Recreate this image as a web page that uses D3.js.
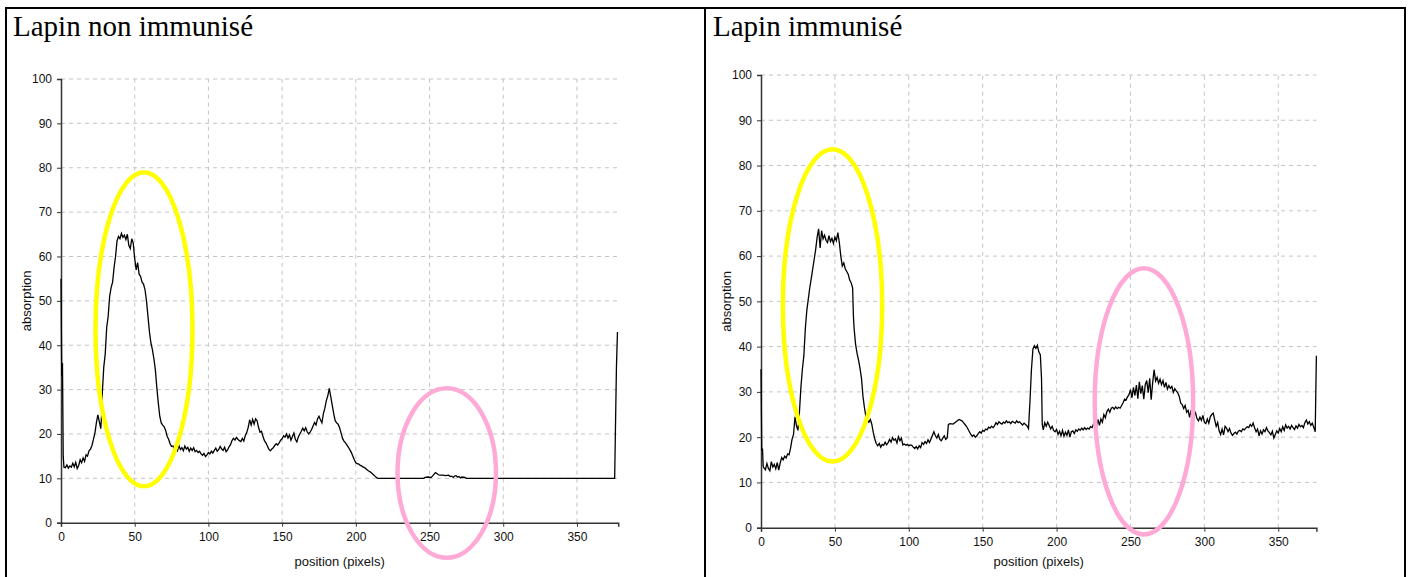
<!DOCTYPE html>
<html>
<head>
<meta charset="utf-8">
<script src="https://cdn.jsdelivr.net/npm/d3@7/dist/d3.min.js"></script>
<style>
  body { margin: 0; background: #fff; }
  svg { display: block; }
  .grid line { stroke: #c4c4c4; stroke-dasharray: 4,4; }
  .axis path, .axis line { stroke: #333; }
  .axis text { font-family: "Liberation Sans", Arial, sans-serif; font-size: 12px; fill: #111; }
  .lbl { font-family: "Liberation Sans", Arial, sans-serif; font-size: 13px; fill: #111; }
  .title { font-family: "Liberation Serif", "DejaVu Serif", serif; font-size: 29px; fill: #000; }
</style>
</head>
<body>
<svg id="fig" width="1412" height="577"></svg>
<script>
const titles = ["Lapin non immunisé", "Lapin immunisé"];
const xTicks = [0, 50, 100, 150, 200, 250, 300, 350];
const yTicks = [0, 10, 20, 30, 40, 50, 60, 70, 80, 90, 100];
const xLabel = "position (pixels)";
const yLabel = "absorption";
const positionMax = [378, 375.8];

// [position, absorption]
const profileNon = [
  [0,55],[0.5,33],[1,36],[1.5,15],[2,12.5],[3,12.4],[4,13],[5,12.3],[6,12.8],[7,12.5],[8,13.4],[9,12.6],
  [10,13.6],[11,12.2],[12,12.9],[13,14.2],[14,13.5],[15,14.6],[16,13.8],[17,15.3],[18,15],[19,16.2],
  [20,16.6],[21,17.4],[22,18.8],[23,20.2],[24,22.5],[25,24.3],[26,22.8],[27,21.2],[27.5,24],[28,29],
  [29,35],[30,38],[31,44],[32,46.5],[33,51],[34,53],[35,54.2],[36,57.5],[37,60],[38,63.5],[39,64.5],
  [40,64],[41,65.2],[42,64.3],[43,64.8],[44,63.8],[45,65],[46,62.5],[47,61.8],[48,64],[49,63],
  [50,59.5],[51,57],[52,58.6],[53,56],[54,55.5],[55,54.2],[56,53.8],[57,52.5],[58,50],[59,46.5],
  [60,43],[61,40.5],[62,39],[63,37],[64,34.5],[65,30.5],[66,27],[67,24],[68,22.5],[69,22],
  [70,21.6],[71,20.8],[72,19.5],[73,18.8],[74,17.8],[75,17.2],[76,17.3],[77,16.4],[78,16.8],[79,16.2],
  [80,17.4],[81,16.5],[82,16.9],[83,16.2],[84,17.3],[85,16.6],[86,17],[87,16.1],[88,16.8],[89,16.3],
  [90,16.9],[91,16],[92,16.3],[93,15.8],[94,16.1],[95,15.5],[96,15.2],[97,15.6],[98,14.9],[99,15.3],
  [100,15.8],[101,15.5],[102,16.1],[103,15.7],[104,16.3],[105,16.8],[106,16.1],[107,16.5],[108,17.2],[109,16.6],
  [110,16.3],[111,17],[112,16],[113,16.4],[114,17.1],[115,17.6],[116,18.5],[117,19],[118,18.6],[119,19.2],
  [120,18.8],[121,18.5],[122,18.3],[123,19],[124,18.4],[125,19.6],[126,20.3],[127,21.5],[128,23.2],[129,22],
  [130,23.3],[131,22.2],[132,23.4],[133,23],[134,21.5],[135,20.4],[136,20.6],[137,19.5],[138,18.5],[139,18],
  [140,17.3],[141,16.6],[142,16.2],[143,16.6],[144,16.9],[145,17.4],[146,17.8],[147,17.5],[148,18],[149,18.6],
  [150,18.9],[151,19.6],[152,19.3],[153,20],[154,19.1],[155,19.8],[156,18.6],[157,19.4],[158,20.2],[159,18.8],
  [160,18.2],[161,19.3],[162,20],[163,20.6],[164,21.3],[165,20.7],[166,21.4],[167,20.5],[168,20],[169,20.4],
  [170,21],[171,21.8],[172,22.6],[173,22],[174,23.4],[175,24],[176,23.2],[177,22.5],[178,24.6],[179,25.8],
  [180,27.5],[181,28.6],[182,30.3],[183,28.4],[184,26.5],[185,24.6],[186,23],[187,22.5],[188,22.2],[189,21.4],
  [190,20.2],[191,19],[192,18.4],[193,18],[194,17.5],[195,17],[196,16.4],[197,15.8],[198,15],[199,14.2],
  [200,13.5],[201,13.3],[202,13.2],[203,12.9],[204,12.8],[205,12.5],[206,12.4],[207,12.1],[208,11.8],[209,11.6],
  [210,11.4],[211,11.1],[212,10.8],[213,10.5],[214,10.2],[215,10],[246,10],[247,10.2],[249,10.3],[251,10.2],
  [252,10.5],[253,10.9],[254,11.3],[255,11.1],[256,10.8],[257,10.7],[259,10.7],[261,10.6],[263,10.7],[264,10.4],
  [265,10.5],[266,10.2],[267,10.5],[268,10.6],[269,10.3],[270,10.4],[271,10.1],[272,10.3],[274,10.2],[275,10],
  [375.6,10],[376,18.3],[376.8,35],[377.5,43]
];

// [position, absorption]
const profileImm = [
  [0,35],[0.5,17],[1,17.5],[1.5,13.5],[2,13.2],[3,12.8],[4,14.2],[5,13.1],[6,12.6],[7,14.6],[8,13.4],[9,14],
  [10,13],[11,14.4],[12,12.7],[13,14.3],[14,15.5],[15,15],[16,15.8],[17,15.4],[18,16.3],[19,16.1],
  [20,17.6],[21,19.5],[22,20.6],[23,24.5],[24,22.5],[25,21.5],[26,25.5],[27,31],[28,35],[29,38],
  [30,44],[31,48],[32,50.5],[33,53],[34,55],[35,57.2],[36,59.3],[37,61.5],[38,64.2],[39,66],
  [40,61.8],[41,65.6],[42,63.8],[43,64.6],[44,63.5],[45,63],[46,64.5],[47,63.2],[48,63.9],[49,62.8],
  [50,64.2],[51,63.4],[52,65.2],[53,63],[54,60],[55,57.8],[56,58.5],[57,57.2],[58,56.6],[59,56],
  [60,54.7],[61,54.1],[62,53],[62.5,47],[63,44],[64,40.5],[65,38.5],[66,37],[67,35.2],[68,33],[69,29],
  [70,26.5],[71,24.5],[72,23.8],[73,23.3],[74,23.9],[75,22.8],[76,21],[77,19.6],[78,18.6],[79,18.1],
  [80,18.6],[81,17.8],[82,18.4],[83,18.2],[84,18.9],[85,18.3],[86,18.8],[87,19.5],[88,18.9],[89,19.9],
  [90,19.3],[91,19.6],[92,18.7],[93,20.1],[94,19.2],[95,19.8],[96,18.3],[97,18.5],[98,18.2],[99,18.4],
  [100,18.1],[101,18.3],[102,18.2],[103,17.8],[104,17.5],[105,17.9],[106,17.4],[107,18.1],[108,17.7],[109,18.8],
  [110,18.4],[111,19],[112,18.6],[113,19.4],[114,18.8],[115,19.6],[116,20.4],[117,21.2],[118,20.3],[119,19.8],
  [120,20.6],[121,19.5],[122,19.2],[123,19.8],[124,20.3],[125,19.5],[126,19.8],[126.8,22.8],[128,23],[130,22.9],
  [132,23.4],[134,23.9],[136,23.6],[137,23.2],[138,22.8],[139,22.4],[140,21.8],[141,21.2],[142,20.6],[143,20.2],
  [144,20.5],[145,20],[146,20.3],[147,20.8],[148,21.2],[149,20.9],[150,21.5],[151,21.3],[152,21.8],[153,21.6],
  [154,22.2],[155,22],[156,22.4],[157,22.1],[158,22.5],[159,23.2],[160,22.8],[161,23.4],[162,23.1],[163,22.9],
  [164,23.3],[165,23.1],[166,23.6],[167,23.2],[168,23.4],[169,23],[170,23.5],[171,23.3],[172,23.1],[173,23.6],
  [174,23.2],[175,23.4],[176,23],[177,22.7],[178,23.1],[179,22.8],[180,22.5],[181,21.9],[182,28],[183,35],
  [184,39.5],[185,40.2],[186,39.6],[187,40.3],[188,38.8],[189,38.2],[189.8,33],[190.3,22.8],[191,21.6],[192,23.2],
  [193,22.4],[194,23.3],[195,22.6],[196,21.8],[197,22.4],[198,21.5],[199,21.2],[200,21.7],[201,20.6],[202,21.3],
  [203,20.3],[204,21.5],[205,20.2],[206,21.1],[207,20.4],[208,21.6],[209,20],[210,21.2],[211,21.4],[212,20.8],
  [213,21.6],[214,21.3],[215,21.8],[216,21.5],[217,22],[218,21.6],[219,22.1],[220,21.7],[221,22],[222,21.8],
  [223,22.3],[224,22.1],[225,22.9],[226,23.6],[227,22.4],[228,23.9],[229,22.6],[230,24],[231,23.3],[232,25],
  [233,24.3],[234,25.6],[235,26.2],[236,25.5],[237,26.4],[238,26.6],[239,26.2],[240,26.7],[241,26.3],[242,26.6],
  [243,26.4],[244,27],[245,27.6],[246,28.4],[247,28.2],[248,28.9],[249,29.4],[250,30.5],[251,28.7],[252,31],
  [253,29.2],[254,31.5],[255,28.5],[256,32.2],[257,29.6],[258,31.4],[259,28.4],[260,31.6],[261,32.5],[262,29.8],
  [263,33],[264,28.3],[265,32],[266,34.9],[267,32.4],[268,33.2],[269,31.9],[270,32.8],[271,31.6],[272,32.5],
  [273,31],[274,32.1],[275,30.6],[276,31.4],[277,30.8],[278,31.2],[279,29.9],[280,30.7],[281,30.2],[282,29.8],
  [283,29],[284,27.5],[285,27.2],[286,26.3],[287,27],[288,25.5],[289,25.9],[290,24.4],[291,25.9],[292,26.2],
  [293,24.6],[294,25.4],[295,24.1],[296,23.6],[297,24.4],[298,23.7],[299,24.8],[300,23.3],[301,23],[302,24],
  [303,23.1],[304,24.5],[305,25],[306,25.3],[307,23.8],[308,22.4],[309,23.2],[310,21.4],[311,20.6],[312,21.8],
  [313,20.5],[314,22.4],[315,22],[316,21.2],[317,21.9],[318,20.9],[319,20.4],[320,20.8],[321,21.1],[322,20.7],
  [323,21.3],[324,21.5],[325,21.2],[326,21.8],[327,21.6],[328,22],[329,22.3],[330,22.1],[331,22.8],[332,22.4],
  [333,23.1],[334,22],[335,21.2],[336,21.8],[337,20.3],[338,21.4],[339,20.7],[340,21.6],[341,21.2],[342,22.1],
  [343,21.4],[344,21],[345,20.5],[346,21.3],[347,19.8],[348,20.6],[349,21.4],[350,20.9],[351,21.9],[352,21.2],
  [353,22.3],[354,21.5],[355,22.7],[356,22],[357,22.4],[358,21.8],[359,22.6],[360,22.1],[361,21.7],[362,22.5],
  [363,22],[364,22.8],[365,22.3],[366,22.6],[367,22.1],[368,23.2],[369,23.8],[370,22.9],[371,23.4],[372,22.6],
  [373,23.1],[374,22.2],[375,21.2],[375.4,30],[375.8,38]
];

// highlight ellipses: centre and half-axes, in data units
const ellipsesNon = [
  { cx: 56.3, cy: 43.6, rx: 32.9, ry: 35.4, color: "#ffff00" },
  { cx: 261.7, cy: 11.2, rx: 33.4, ry: 19.1, color: "#ffaad6" }
];
const ellipsesImm = [
  { cx: 48.4, cy: 49.1, rx: 33.6, ry: 34.5, color: "#ffff00" },
  { cx: 259.1, cy: 27.9, rx: 33.3, ry: 29.4, color: "#ffaad6" }
];

const svg = d3.select("#fig");

// table frame
svg.append("rect")
  .attr("x", 6).attr("y", 8).attr("width", 1399).attr("height", 580)
  .attr("fill", "none").attr("stroke", "#000").attr("stroke-width", 2);
svg.append("line")
  .attr("x1", 705).attr("x2", 705).attr("y1", 8).attr("y2", 577)
  .attr("stroke", "#000").attr("stroke-width", 2);

const panels = [
  { title: titles[0], data: profileNon, ellipses: ellipsesNon, xMax: positionMax[0],
    ox: 0, left: 61, right: 618.2, top: 79, bottom: 522.7 },
  { title: titles[1], data: profileImm, ellipses: ellipsesImm, xMax: positionMax[1],
    ox: 700, left: 761, right: 1316.4, top: 75, bottom: 527.7 }
];

function drawPanel(p) {
  const g = svg.append("g");

  g.append("text")
    .attr("class", "title")
    .attr("x", p.ox + 13).attr("y", 36)
    .text(p.title);

  const x = d3.scaleLinear().domain([0, p.xMax]).range([p.left, p.right]);
  const y = d3.scaleLinear().domain([0, 100]).range([p.bottom, p.top]);

  const grid = g.append("g").attr("class", "grid");
  grid.selectAll("line.h")
    .data(yTicks.filter(d => d > 0))
    .join("line")
    .attr("class", "h")
    .attr("x1", x(0)).attr("x2", x(p.xMax))
    .attr("y1", d => y(d)).attr("y2", d => y(d));
  grid.selectAll("line.v")
    .data(xTicks.filter(d => d > 0))
    .join("line")
    .attr("class", "v")
    .attr("x1", d => x(d)).attr("x2", d => x(d))
    .attr("y1", y(0)).attr("y2", y(100));

  g.append("g")
    .attr("class", "axis")
    .attr("transform", `translate(0,${y(0)})`)
    .call(d3.axisBottom(x).tickValues(xTicks).tickSize(4).tickPadding(6).tickFormat(d3.format("d")))
    .call(a => a.select(".domain").attr("stroke-width", 1.5));

  g.append("g")
    .attr("class", "axis")
    .attr("transform", `translate(${x(0)},0)`)
    .call(d3.axisLeft(y).tickValues(yTicks).tickSize(4).tickPadding(5).tickFormat(d3.format("d")))
    .call(a => a.select(".domain").attr("stroke-width", 1.5));

  g.append("text")
    .attr("class", "lbl")
    .attr("x", (p.left + p.right) / 2).attr("y", 566)
    .attr("text-anchor", "middle")
    .text(xLabel);

  g.append("text")
    .attr("class", "lbl")
    .attr("transform", `translate(${p.ox + 31},${(p.top + p.bottom) / 2}) rotate(-90)`)
    .attr("text-anchor", "middle")
    .text(yLabel);

  const line = d3.line()
    .x(d => x(d[0]))
    .y(d => y(d[1]));

  g.append("path")
    .datum(p.data)
    .attr("fill", "none")
    .attr("stroke", "#000")
    .attr("stroke-width", 1.3)
    .attr("d", line);

  g.selectAll("ellipse")
    .data(p.ellipses)
    .join("ellipse")
    .attr("cx", d => x(d.cx))
    .attr("cy", d => y(d.cy))
    .attr("rx", d => x(d.rx) - x(0))
    .attr("ry", d => y(0) - y(d.ry))
    .attr("fill", "none")
    .attr("stroke", d => d.color)
    .attr("stroke-width", 4.5);
}

panels.forEach(drawPanel);
</script>
</body>
</html>
